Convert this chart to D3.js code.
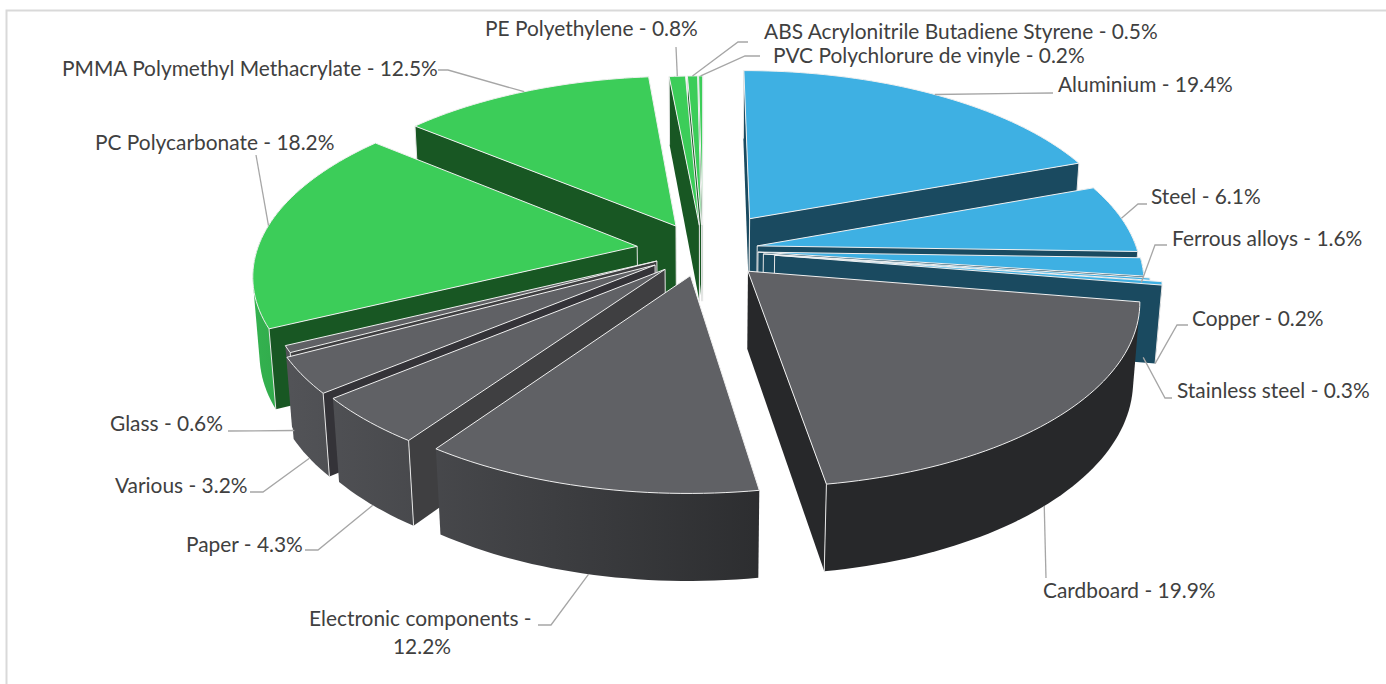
<!DOCTYPE html>
<html>
<head>
<meta charset="utf-8">
<script src="https://d3js.org/d3.v7.min.js"></script>
<style>
  html, body { margin: 0; padding: 0; background: #fff; }
  svg { display: block; }
  text { font-family: Lato, "Open Sans", sans-serif; font-size: 20.9px; fill: #404040; }
</style>
</head>
<body>
<div id="chart-area"></div>
<script>
// chart values, clockwise from 12 o'clock
const materials = ["Aluminium", "Steel", "Ferrous alloys", "Copper", "Stainless steel",
	"Cardboard", "Electronic components", "Paper", "Various", "Glass",
	"PC Polycarbonate", "PMMA Polymethyl Methacrylate", "PE Polyethylene",
	"ABS Acrylonitrile Butadiene Styrene", "PVC Polychlorure de vinyle"];
const shares = [19.4, 6.1, 1.6, 0.2, 0.3, 19.9, 12.2, 4.3, 3.2, 0.6, 18.2, 12.5, 0.8, 0.5, 0.2];
const families = ["metal", "metal", "metal", "metal", "metal",
	"other", "other", "other", "other", "other",
	"plastic", "plastic", "plastic", "plastic", "plastic"];

let width = 1386, height = 684;

// how far each slice is pulled out, in pie radii
const explosion = [0.22, 0.145, 0.145, 0.16, 0.19, 0.165, 0.145, 0.145, 0.15, 0.135, 0.175, 0.155, 0.14, 0.14, 0.14];

// where the labels go: text start, baseline, leader elbow points, height on the rim (0 top, 1 bottom)
// at = where along the slice's arc the leader starts, from = slice it starts on (copper and stainless cross)
const labelLayout = [
	{x: 1058, y: 92, rim: 0, leader: [[1053, 93]]},
	{x: 1151, y: 204, rim: 0, leader: [[1138, 204], [1147, 204]]},
	{x: 1172, y: 246, rim: 0.2, leader: [[1155, 245], [1167, 245]]},
	{x: 1192, y: 326, rim: 1, from: 4, at: 1, leader: [[1177, 325], [1188, 325]]},
	{x: 1177, y: 398, rim: 1, from: 3, leader: [[1165, 398], [1172, 398]]},
	{x: 1043, y: 598, rim: 1, at: 0.522, leader: [[1046, 578]]},
	{x: 309, y: 626, rim: 1, leader: [[551, 625], [538, 625]], wrap: ["Electronic components -", "12.2%"]},
	{x: 186, y: 552, rim: 1, leader: [[318, 550], [305, 550]]},
	{x: 115, y: 493, rim: 1, leader: [[263, 492], [250, 492]]},
	{x: 110, y: 431, rim: 1, leader: [[228, 431]]},
	{x: 95, y: 150, rim: 0, leader: [[256, 155]]},
	{x: 62, y: 76, rim: 0, leader: [[448, 70], [438, 70]]},
	{x: 485, y: 36, rim: 0, leader: [[676, 47]]},
	{x: 764, y: 39, rim: 0, leader: [[738, 42], [748, 42]]},
	{x: 773, y: 63, rim: 0, leader: [[745, 56], [760, 56]]}
];

const palette = {
	metal: {top: "#3eb0e3", face: "#1a4a60"},
	other: {top: "#606165", face: "#3f3f41"},
	plastic: {top: "#3ccd59", face: "#185723"}
};

let svg = d3.select("#chart-area")
	.append("svg")
	.attr("width", width)
	.attr("height", height);

// gradients for the outer walls
let defs = svg.append("defs");
function wallGradient(id, x1, x2, c1, c2) {
	let g = defs.append("linearGradient")
		.attr("id", id)
		.attr("gradientUnits", "userSpaceOnUse")
		.attr("x1", x1).attr("x2", x2).attr("y1", 0).attr("y2", 0);
	g.append("stop").attr("offset", 0).attr("stop-color", c1);
	g.append("stop").attr("offset", 1).attr("stop-color", c2);
}
wallGradient("wall-other", 290, 830, "#525357", "#27282a");
wallGradient("wall-plastic", 250, 290, "#34b350", "#30a84a");
wallGradient("wall-metal", 1100, 1170, "#1a4a60", "#1a4a60");

// frame of the chart area
svg.append("path")
	.attr("d", "M6.5,684V10.5H1386")
	.attr("fill", "none")
	.attr("stroke", "#d9d9d9")
	.attr("stroke-width", 2);

// ground plane: X to the right, Y toward the viewer, z going down (both in radii)
let x = d3.scaleLinear().domain([0, 1]).range([703, 1083]);
let y = d3.scaleLinear().domain([0, 1]).range([250, 428]);
let drop = d3.scaleLinear().domain([0, 1]).range([0, 78]);
const nearness = 0.145, sink = 0.015;

function project(gx, gy, z) {
	let s = 1 / (1 - nearness * gy + sink * z);
	return [x(gx * s), y(gy * s) + drop(z) * s];
}

let pie = d3.pie().sort(null).value(d => d.share);
let slices = pie(shares.map((s, i) => ({share: s, i: i}))).map(p => {
	let i = p.data.i;
	let mid = (p.startAngle + p.endAngle) / 2;
	return {
		i: i,
		start: p.startAngle,
		end: p.endAngle,
		mid: mid,
		family: families[i],
		ox: explosion[i] * Math.sin(mid),
		oy: -explosion[i] * Math.cos(mid)
	};
});

function rim(d, a, z) {
	return project(d.ox + Math.sin(a), d.oy - Math.cos(a), z);
}
function apex(d, z) {
	return project(d.ox, d.oy, z);
}
function arcPoints(d, a0, a1, z) {
	let n = Math.max(2, Math.ceil((a1 - a0) * 40));
	return d3.range(n + 1).map(k => rim(d, a0 + (a1 - a0) * k / n, z));
}

let line = d3.line();

// painter's order, back of the pie first
let ordered = slices.slice().sort((a, b) => a.oy - b.oy);

let groups = svg.selectAll("g.slice")
	.data(ordered)
	.enter().append("g")
	.attr("class", "slice")
	.each(function(d) {
		let g = d3.select(this);
		let c = palette[d.family];

		// outer wall, the part of the rim on the viewer's side
		// hull so the silhouette runs straight from the top rim to the bottom rim, the top face hides the rest
		let a0 = Math.max(d.start, Math.PI / 2 - 0.03), a1 = Math.min(d.end, 3 * Math.PI / 2 + 0.35);
		if (a1 > a0) {
			let hull = d3.polygonHull(arcPoints(d, a0, a1, 0).concat(arcPoints(d, a0, a1, 1)));
			g.append("path")
				.attr("d", line(hull) + "Z")
				.attr("fill", "url(#wall-" + d.family + ")");
		}

		// radial faces, only the ones turned to the viewer
		let startFace = [apex(d, 0), rim(d, d.start, 0), rim(d, d.start, 1), apex(d, 1)];
		let endFace = [apex(d, 0), rim(d, d.end, 0), rim(d, d.end, 1), apex(d, 1)];
		let faceColor = d.i == 5 ? "#27282a" : d.i == 8 ? "#343338" : c.face;
		if (d3.polygonArea(startFace) > 0) {
			g.append("path").attr("d", line(startFace) + "Z").attr("fill", faceColor);
			g.append("path").attr("d", line([startFace[0], startFace[3]])).attr("stroke", "#e6e6e6");
			g.append("path").attr("d", line([startFace[1], startFace[2]])).attr("stroke", "#e6e6e6");
		}
		if (d3.polygonArea(endFace) < 0) {
			g.append("path").attr("d", line(endFace) + "Z").attr("fill", faceColor);
			g.append("path").attr("d", line([endFace[1], endFace[2]])).attr("stroke", "#e6e6e6");
			if (d.family == "metal") {
				g.append("path").attr("d", line([endFace[0], endFace[3]])).attr("stroke", "#e6e6e6");
			}
		}

		// top of the slice
		g.append("path")
			.attr("d", line([apex(d, 0)].concat(arcPoints(d, d.start, d.end, 0))) + "Z")
			.attr("fill", c.top)
			.attr("stroke", "#f0f0f0")
			.attr("stroke-width", 1)
			.attr("stroke-linejoin", "round");
	});

// leaders, from the rim of the slice to the label
svg.selectAll("path.leader")
	.data(slices)
	.enter().append("path")
	.attr("class", "leader")
	.attr("fill", "none")
	.attr("stroke", "#a6a6a6")
	.attr("stroke-width", 1.3)
	.attr("d", d => {
		let l = labelLayout[d.i];
		let s = l.from !== undefined ? slices[l.from] : d;
		let at = l.at !== undefined ? l.at : 0.5;
		return line([rim(s, s.start + (s.end - s.start) * at, l.rim)].concat(l.leader));
	});

// labels
svg.selectAll("text.label")
	.data(slices)
	.enter().append("text")
	.attr("class", "label")
	.attr("x", d => labelLayout[d.i].x)
	.attr("y", d => labelLayout[d.i].y)
	.each(function(d) {
		let wrap = labelLayout[d.i].wrap;
		if (wrap) {
			d3.select(this).append("tspan").text(wrap[0]);
			d3.select(this).append("tspan").attr("x", 393).attr("dy", 28).text(wrap[1]);
		} else {
			d3.select(this).text(materials[d.i] + " - " + shares[d.i].toFixed(1) + "%");
		}
	});
</script>
</body>
</html>
